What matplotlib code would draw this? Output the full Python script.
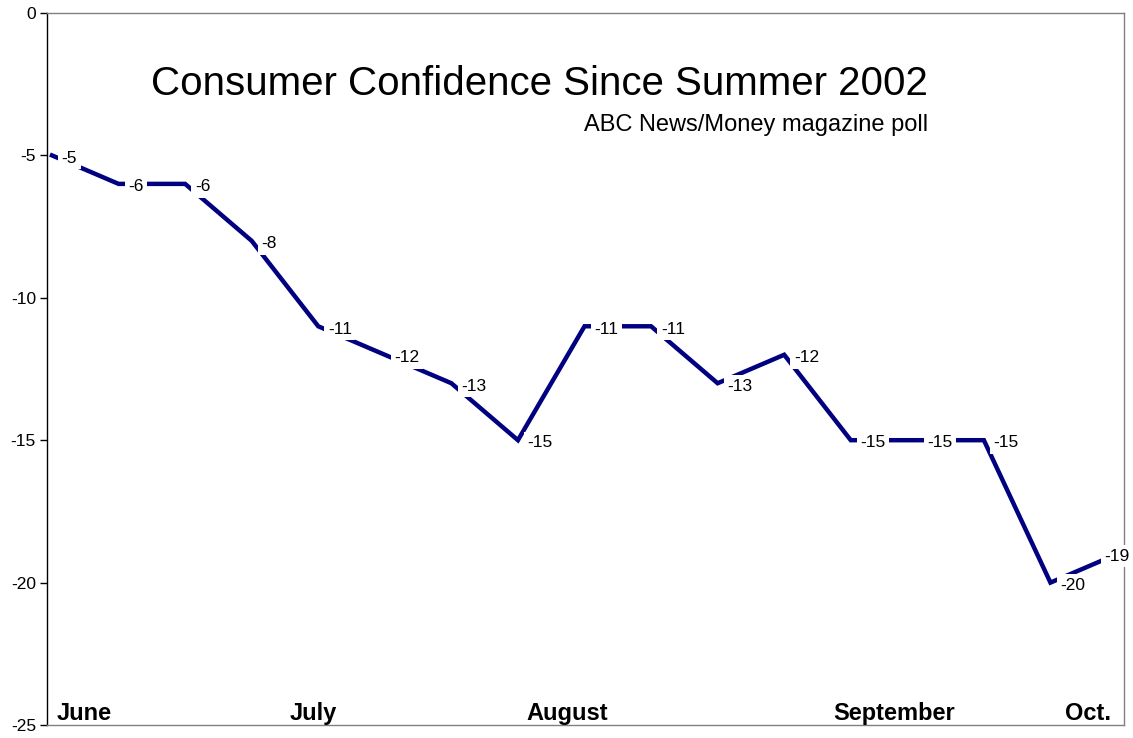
import numpy as np
import matplotlib.pyplot as plt

plt.rcParams['font.family'] = ['Liberation Sans', 'DejaVu Sans']

# poll readings, roughly every two weeks from June to October 2002
values = [-5, -6, -6, -8, -11, -12, -13, -15, -11, -11, -13, -12, -15, -15, -15, -20, -19]
months = ['June', 'July', 'August', 'September', 'Oct.']
month_x = [0.48, 3.92, 7.74, 12.65, 15.56]   # where the month names sit along the x axis
yticks = [0, -5, -10, -15, -20, -25]

x = np.arange(len(values))

fig = plt.figure(figsize=(11.33, 7.38), dpi=100)
ax = fig.add_axes([47 / 1133, 13 / 738, 1077 / 1133, 712 / 738])

ax.plot(x, values, color='#000080', lw=3.2, solid_joinstyle='miter', zorder=3)

# data labels: white boxes that cut the line, like the Excel original
for xi, v in zip(x, values):
    off = (7, -2)
    if xi == x[-1]:
        off = (-9, -1.5)   # last one pushed back so it stays on the page
    ax.annotate(str(v), (xi, v), xytext=off, textcoords='offset points',
                ha='left', va='center', fontsize=12.5, color='black', zorder=5,
                annotation_clip=False,
                bbox=dict(boxstyle='square,pad=0.2', fc='white', ec='none'))

for m, mx in zip(months, month_x):
    ax.text(mx, -25, m, ha='center', va='bottom', fontsize=17, fontweight='bold')

ax.text(0.457, 0.9, 'Consumer Confidence Since Summer 2002', transform=ax.transAxes,
        ha='center', va='center', fontsize=29)
ax.text(0.818, 0.842, 'ABC News/Money magazine poll', transform=ax.transAxes,
        ha='right', va='center', fontsize=17)

ax.set_xlim(-0.075, 16.105)
ax.set_ylim(-25, 0)
ax.set_yticks(yticks)
ax.set_yticklabels([str(t) for t in yticks])
ax.set_xticks([])
ax.tick_params(axis='y', direction='out', length=5, width=1, pad=3, labelsize=12.5)

for side in ['top', 'right', 'bottom']:
    ax.spines[side].set_color('#808080')
    ax.spines[side].set_linewidth(1)
ax.spines['left'].set_color('black')
ax.spines['left'].set_linewidth(1)
ax.spines['left'].set_zorder(2)

fig.savefig('out.png', dpi=100)
